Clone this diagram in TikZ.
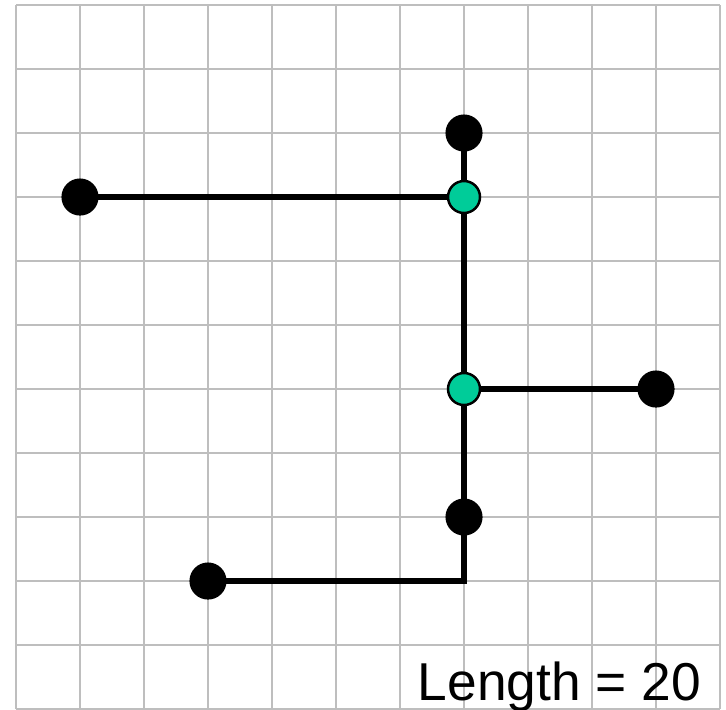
\documentclass[tikz,border=0pt]{standalone}
\usepackage{fontspec}
\setmainfont{Liberation Sans}
\definecolor{gridgray}{RGB}{190,190,190}
\definecolor{mygreen}{RGB}{0,204,153}
\pgfdeclarelayer{gridlayer}
\pgfdeclarelayer{wirelayer}
\pgfsetlayers{gridlayer,wirelayer,main}
\tikzset{
  blackdot/.style={circle,fill=black,inner sep=0pt,minimum size=0.58cm},
  greendot/.style={circle,fill=mygreen,draw=black,line width=1.1pt,inner sep=0pt,minimum size=0.5cm},
  wire/.style={line width=2.3pt,black}
}
\begin{document}
\begin{tikzpicture}[x=1cm,y=-1cm]
\useasboundingbox (-0.25,-0.078125) rectangle (11.09375,11);
\begin{pgfonlayer}{gridlayer}
\draw[gridgray,line width=0.9pt] (0,0) grid (11,11);
\end{pgfonlayer}
\node[blackdot] (t) at (7,2) {};
\node[greendot] (g1) at (7,3) {};
\node[blackdot] (l) at (1,3) {};
\node[greendot] (g2) at (7,6) {};
\node[blackdot] (r) at (10,6) {};
\node[blackdot] (b) at (7,8) {};
\node[blackdot] (bl) at (3,9) {};
\coordinate (c) at (7,9);
\begin{pgfonlayer}{wirelayer}
\draw[wire] (l.center) -- (g1.center);
\draw[wire] (t.center) -- (g1.center) -- (g2.center) -- (b.center) -- (c) -- (bl.center);
\draw[wire] (g2.center) -- (r.center);
\end{pgfonlayer}
\node[anchor=base east,inner sep=0pt,font=\fontsize{23.7}{28}\selectfont] (len) at (10.71,10.86) {Length = 20};
\end{tikzpicture}
\end{document}
